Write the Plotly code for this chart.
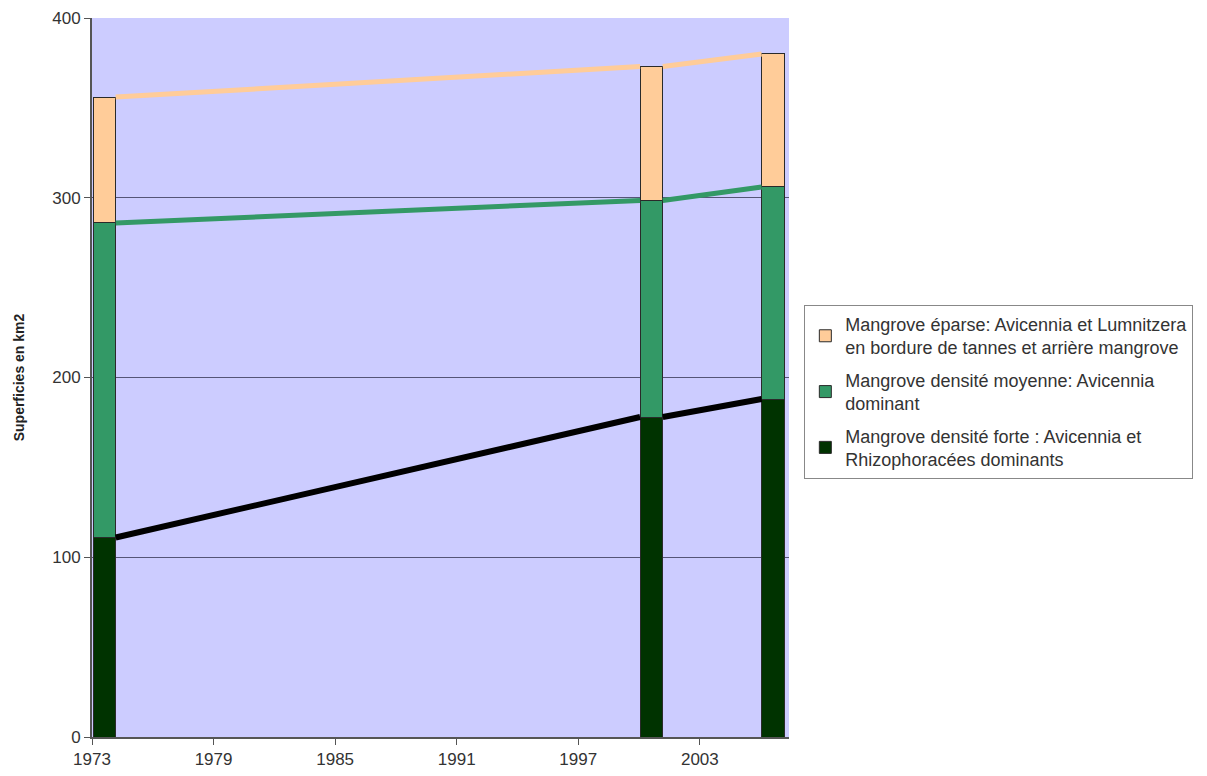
import plotly.graph_objects as go

years = [1973, 2000, 2006]
dense = [111, 178, 188]
medium = [175, 120.5, 118]
sparse = [70, 74.5, 74]

names = [
    "Mangrove densité forte : Avicennia et<br>Rhizophoracées dominants",
    "Mangrove densité moyenne: Avicennia<br>dominant",
    "Mangrove éparse: Avicennia et Lumnitzera<br>en bordure de tannes et arrière mangrove",
]
colors = ["#003300", "#339966", "#FFCC99"]
line_colors = ["#000000", "#339966", "#FFCC99"]
tick_years = [1973, 1979, 1985, 1991, 1997, 2003]

bar_offset = 0.05
bar_width = 1.12

series = [dense, medium, sparse]
fig = go.Figure()

# series lines connecting the tops of each stacked segment
cum = [0] * len(years)
tops = []
for s in series:
    cum = [c + v for c, v in zip(cum, s)]
    tops.append(list(cum))

for top, lc, w in zip(tops, line_colors, [6, 5, 5]):
    xs, ys = [], []
    for i in range(len(years) - 1):
        xs += [years[i] + bar_offset + bar_width, years[i + 1] + bar_offset, None]
        ys += [top[i], top[i + 1], None]
    fig.add_trace(go.Scatter(x=xs, y=ys, mode="lines", line=dict(color=lc, width=w),
                             showlegend=False, hoverinfo="skip"))

for k, (s, n, c) in enumerate(zip(series, names, colors)):
    fig.add_trace(go.Bar(x=years, y=s, name=n, offset=bar_offset, width=bar_width,
                         legendgroup=f"g{k}", legendrank=10 - k,
                         marker=dict(color=c, line=dict(color="#2a2a2a", width=1))))

fig.update_layout(
    width=1207, height=776,
    barmode="stack",
    paper_bgcolor="white",
    plot_bgcolor="#CCCCFF",
    margin=dict(l=84, r=426, t=10, b=47, autoexpand=False),
    font=dict(family="Liberation Sans, Arial, sans-serif", color="#333333", size=17),
    legend=dict(
        x=1.022, y=0.601, xanchor="left", yanchor="top",
        traceorder="grouped",
        bordercolor="#888888", borderwidth=1,
        font=dict(size=18, color="#333333"),
        tracegroupgap=6,
    ),
    showlegend=True,
)
fig.update_xaxes(
    range=[1973, 2007.4], tickvals=tick_years, ticktext=[str(t) for t in tick_years],
    ticks="outside", ticklen=6, tickcolor="#555555", showgrid=False,
    showline=True, linecolor="#555555", linewidth=2, zeroline=False, automargin=False,
    tickfont=dict(size=17, color="#333333"),
)
fig.update_yaxes(
    range=[0, 400], tickvals=[0, 100, 200, 300, 400],
    ticks="outside", ticklen=6, tickcolor="#555555",
    showgrid=True, gridcolor="#555577", gridwidth=1,
    showline=True, linecolor="#555555", linewidth=2, zeroline=False, automargin=False,
    tickfont=dict(size=17, color="#333333"),
    title=dict(text="<b>Superficies en km2</b>", font=dict(size=14, color="#222222"), standoff=24),
)

fig.write_html("out.html")
